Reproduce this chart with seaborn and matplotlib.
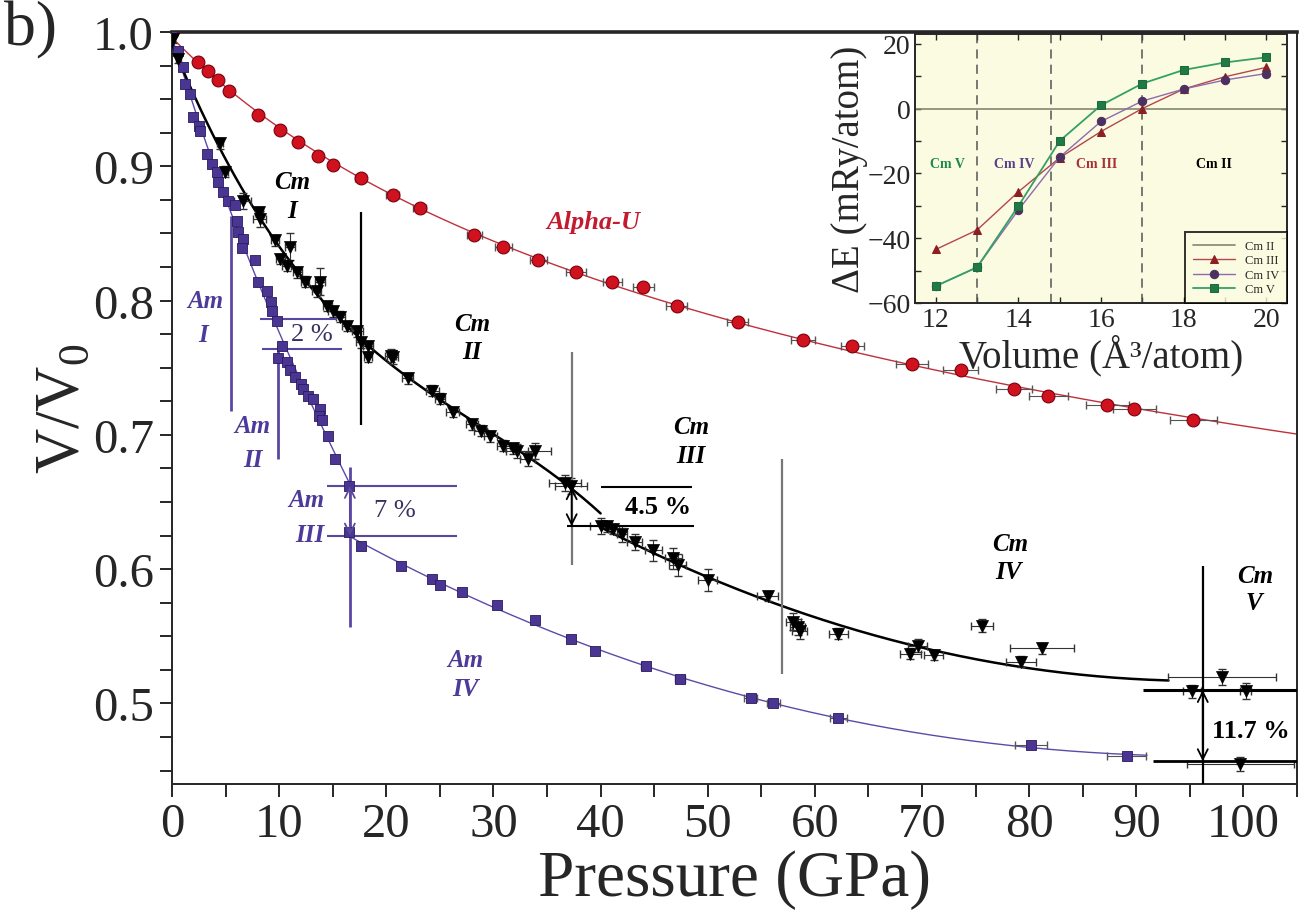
import numpy as np
import matplotlib
matplotlib.use("Agg")
import matplotlib.pyplot as plt
import seaborn as sns
from matplotlib.ticker import MultipleLocator

# ---- Alpha-U (red circles) ----
alpha_p = [0, 2.4, 3.4, 4.3, 5.3, 8.0, 10.1, 11.8, 13.6, 15.0, 17.6, 20.6, 23.1,
           28.2, 30.9, 34.2, 37.7, 41.1, 44.0, 47.1, 52.8, 58.9, 63.5, 69.1,
           73.6, 78.6, 81.8, 87.3, 89.8, 95.3]
alpha_v = [1.0, 0.978, 0.971, 0.964, 0.956, 0.938, 0.927, 0.918, 0.908, 0.901,
           0.891, 0.879, 0.869, 0.849, 0.840, 0.830, 0.821, 0.814, 0.810, 0.796,
           0.784, 0.771, 0.766, 0.753, 0.748, 0.734, 0.729, 0.722, 0.719, 0.711]
alpha_xerr = [0, 0, 0, 0, 0, 0, 0, 0, 0, 0, 0.5, 0.6, 0.6, 0.7, 0.8, 0.8, 0.9,
              0.9, 1.0, 1.0, 1.0, 1.1, 1.1, 1.5, 1.6, 1.7, 1.8, 2.0, 2.0, 2.2]

# ---- Am (purple squares) ----
am_p = [0, 0.6, 1.0, 1.2, 1.7, 2.0, 2.5, 2.6, 3.3, 3.7, 4.2, 4.3, 4.8, 5.2, 5.9,
        6.1, 6.2, 6.6, 6.5, 7.7, 8.0, 8.9, 9.2, 9.3, 9.8, 10.3, 9.9, 10.7, 11.0,
        11.5, 12.0, 12.2, 12.7, 13.2, 13.8, 13.7, 14.0, 14.6, 15.2, 16.5,
        16.5, 17.6, 21.4, 24.3, 25.0, 27.1, 30.3, 33.9, 37.2, 39.5, 44.2, 47.4,
        54.0, 56.1, 62.2, 80.2, 89.1]
am_v = [1.0, 0.986, 0.974, 0.961, 0.954, 0.937, 0.930, 0.926, 0.909, 0.902,
        0.896, 0.888, 0.881, 0.874, 0.871, 0.859, 0.851, 0.846, 0.839, 0.830,
        0.814, 0.807, 0.799, 0.792, 0.785, 0.766, 0.757, 0.754, 0.748, 0.743,
        0.738, 0.734, 0.729, 0.727, 0.719, 0.714, 0.711, 0.699, 0.682, 0.662,
        0.628, 0.617, 0.602, 0.593, 0.588, 0.583, 0.573, 0.562, 0.548, 0.539,
        0.528, 0.518, 0.504, 0.500, 0.489, 0.469, 0.461]
am_xerr = [0] * 47 + [0.3, 0.3, 0.3, 0.4, 0.5, 0.6, 0.6, 0.8, 1.5, 1.8]
am_split = 16.55  # Am III transition

# ---- Cm (black down triangles) ----
cm_p = [0.1, 0.6, 4.5, 4.9, 6.6, 8.1, 8.2, 9.6, 11.0, 10.1, 10.7, 11.7, 12.4,
        13.8, 13.5, 14.5, 15.0, 15.7, 16.3, 17.3, 17.6, 18.3, 18.3, 20.4, 20.6,
        22.0, 24.3, 25.0, 26.2, 28.0, 28.8, 29.7, 30.9, 31.8, 32.2, 33.2, 33.9,
        36.7, 37.2,
        40.0, 40.6, 41.2, 42.0, 43.2, 44.9, 46.8, 47.2, 50.0, 55.6, 58.0, 58.4,
        58.6, 62.2, 68.9, 69.6, 71.1, 75.6, 79.2, 81.2, 95.2, 98.0, 100.2, 99.7]
cm_v = [0.995, 0.980, 0.917, 0.896, 0.874, 0.866, 0.861, 0.845, 0.840, 0.831,
        0.826, 0.821, 0.814, 0.814, 0.807, 0.796, 0.792, 0.788, 0.781, 0.777,
        0.769, 0.766, 0.758, 0.759, 0.758, 0.742, 0.733, 0.727, 0.717, 0.708,
        0.703, 0.699, 0.692, 0.690, 0.688, 0.682, 0.688, 0.664, 0.662,
        0.632, 0.632, 0.630, 0.626, 0.620, 0.614, 0.608, 0.603, 0.592, 0.580,
        0.561, 0.557, 0.554, 0.552, 0.537, 0.543, 0.536, 0.558, 0.531, 0.541,
        0.509, 0.520, 0.509, 0.455]
cm_xerr = [0.2, 0.2, 0.3, 0.3, 0.8, 0.4, 0.6, 0.4, 0.5, 0.4, 0.4, 0.4, 0.4,
           0.5, 0.4, 0.4, 0.4, 0.4, 0.4, 0.5, 0.4, 0.5, 0.4, 0.5, 0.5, 0.5,
           0.6, 0.5, 0.6, 0.6, 0.6, 0.6, 0.6, 0.7, 1.0, 0.7, 1.5, 1.5, 1.5,
           1.0, 0.5, 0.5, 0.5, 0.7, 0.8, 0.8, 0.8, 0.9, 1.0, 0.7, 0.7, 0.7,
           0.9, 1.0, 0.9, 0.9, 1.0, 1.4, 3.0, 0.8, 5.0, 0.5, 5.0]
cm_yerr = [0.003, 0.003, 0.004, 0.004, 0.006, 0.004, 0.006, 0.004, 0.010,
           0.004, 0.004, 0.004, 0.004, 0.010, 0.004, 0.004, 0.004, 0.004,
           0.004, 0.004, 0.004, 0.004, 0.004, 0.005, 0.005, 0.004, 0.004,
           0.004, 0.004, 0.004, 0.004, 0.004, 0.004, 0.004, 0.005, 0.005,
           0.006, 0.006, 0.006,
           0.006, 0.004, 0.004, 0.006, 0.006, 0.008, 0.008, 0.008, 0.008,
           0.004, 0.006, 0.006, 0.006, 0.004, 0.004, 0.005, 0.004, 0.005,
           0.004, 0.004, 0.005, 0.006, 0.006, 0.005]
cm_split = 38.5  # Cm III transition

# phase boundaries (pressure, v_low, v_high)
am_bound_p = [5.5, 9.9, 16.6]
am_bound_lo = [0.718, 0.682, 0.557]
am_bound_hi = [0.863, 0.766, 0.676]
cm_bound_p = [17.6, 37.3, 56.9, 96.2]
cm_bound_lo = [0.707, 0.603, 0.522, 0.44]
cm_bound_hi = [0.866, 0.762, 0.682, 0.602]
cm_bound_col = ["black", "#777777", "#777777", "black"]

# ---- inset: energy differences ----
vol = [12, 13, 14, 15, 16, 17, 18, 19, 20]
de_cm3 = [-43.5, -37.5, -25.7, -15.2, -7.1, 0.0, 6.0, 9.8, 12.7]
de_cm4 = [-54.8, -49.0, -31.3, -15.0, -4.0, 2.3, 6.0, 8.8, 10.8]
de_cm5 = [-54.8, -49.0, -30.1, -10.0, 1.0, 7.7, 11.9, 14.2, 15.8]
vol_bounds = [13, 14.8, 17]

RED = "#d0121f"
PURPLE = "#4a3592"
PURPLE_T = "#4d3a9a"

sns.set_style("ticks")
plt.rcParams["font.family"] = ["Liberation Serif", "DejaVu Serif"]
plt.rcParams["mathtext.fontset"] = "custom"
plt.rcParams["mathtext.rm"] = "Liberation Serif"

fig = plt.figure(figsize=(13.07, 9.2), dpi=100)
ax = fig.add_axes([0.1316, 0.1467, 0.8608, 0.8174])

# fitted curves (polynomial fits of the data)
a_p, a_v = np.array(alpha_p), np.array(alpha_v)
fit_a = np.polyfit(np.log1p(a_p / 25.0), a_v, 2)
grid = np.linspace(0, 105, 300)
sns.lineplot(x=grid, y=np.polyval(fit_a, np.log1p(grid / 25.0)), ax=ax,
             color="#c0303c", lw=1.0, estimator=None, zorder=2)

m_p, m_v = np.array(am_p), np.array(am_v)
lo = (m_p <= am_split) & (m_v > 0.645)
hi = m_v < 0.645
fit_m1 = np.polyfit(m_p[lo], m_v[lo], 3)
fit_m2 = np.polyfit(m_p[hi], m_v[hi], 3)
g1 = np.linspace(0, am_split, 100)
g2 = np.linspace(am_split, 91, 200)
sns.lineplot(x=g1, y=np.polyval(fit_m1, g1), ax=ax, color="#5d4aa8", lw=1.0,
             estimator=None, zorder=2)
sns.lineplot(x=g2, y=np.polyval(fit_m2, g2), ax=ax, color="#5d4aa8", lw=1.0,
             estimator=None, zorder=2)

c_p, c_v = np.array(cm_p), np.array(cm_v)
s1 = c_p < cm_split
s2 = (c_p > cm_split) & (c_v > 0.5)
fit_c1 = np.polyfit(c_p[s1], c_v[s1], 3)
fit_c2 = np.polyfit(c_p[s2], c_v[s2], 2)
h1 = np.linspace(0, 40, 150)
h2 = np.linspace(40, 93, 200)
sns.lineplot(x=h1, y=np.polyval(fit_c1, h1), ax=ax, color="black", lw=1.8,
             estimator=None, zorder=3)
sns.lineplot(x=h2, y=np.polyval(fit_c2, h2), ax=ax, color="black", lw=1.8,
             estimator=None, zorder=3)

# error bars
ax.errorbar(alpha_p, alpha_v, xerr=alpha_xerr, yerr=0.003, fmt="none",
            ecolor="#555555", elinewidth=0.8, capsize=3, zorder=3)
ax.errorbar(am_p, am_v, xerr=am_xerr, fmt="none", ecolor="#555555",
            elinewidth=0.8, capsize=3, zorder=3)
ax.errorbar(cm_p, cm_v, xerr=cm_xerr, yerr=cm_yerr, fmt="none",
            ecolor="#333333", elinewidth=0.8, capsize=3, zorder=3)

# data points
sns.scatterplot(x=alpha_p, y=alpha_v, ax=ax, marker="o", s=85, color=RED,
                edgecolor="#7a0010", linewidth=0.8, zorder=5)
sns.scatterplot(x=am_p, y=am_v, ax=ax, marker="s", s=60, color=PURPLE,
                edgecolor="#2a1b5e", linewidth=0.6, zorder=5)
sns.scatterplot(x=cm_p, y=cm_v, ax=ax, marker="v", s=75, color="black",
                edgecolor="black", linewidth=0.5, zorder=6)

# phase boundary lines
ax.vlines(am_bound_p, am_bound_lo, am_bound_hi, color="#5a48a0", lw=2.0, zorder=4)
for p, v0, v1, c in zip(cm_bound_p, cm_bound_lo, cm_bound_hi, cm_bound_col):
    ax.vlines(p, v0, v1, color=c, lw=1.6, zorder=4)

# volume jumps
ax.hlines([0.786, 0.764], [8.2, 8.4], [15.4, 15.9], color="#5a48a0", lw=1.5, zorder=4)
ax.hlines([0.662, 0.625], 14.5, 26.6, color="#5a48a0", lw=1.5, zorder=4)
ax.hlines(0.661, 40.0, 48.5, color="black", lw=1.5, zorder=4)
ax.hlines(0.632, 36.9, 48.7, color="black", lw=1.5, zorder=4)
ax.hlines(0.510, 90.6, 105, color="black", lw=2.2, zorder=4)
ax.hlines(0.457, 91.6, 105, color="black", lw=2.0, zorder=4)
arrow = dict(arrowstyle="<->", lw=1.3, mutation_scale=18, shrinkA=0, shrinkB=0)
ax.annotate("", xy=(16.6, 0.662), xytext=(16.6, 0.625),
            arrowprops=dict(arrow, color="#5a48a0"), zorder=6)
ax.annotate("", xy=(37.3, 0.661), xytext=(37.3, 0.632),
            arrowprops=dict(arrow, color="black"), zorder=6)
ax.annotate("", xy=(96.2, 0.510), xytext=(96.2, 0.457),
            arrowprops=dict(arrow, color="black"), zorder=6)

# labels
lab = dict(fontsize=18, fontweight="bold", style="italic", ha="center",
           va="center", zorder=7)
ax.text(3.1, 0.800, "Am", color=PURPLE_T, **lab)
ax.text(2.9, 0.775, "I", color=PURPLE_T, **lab)
ax.text(7.5, 0.707, "Am", color=PURPLE_T, **lab)
ax.text(7.6, 0.682, "II", color=PURPLE_T, **lab)
ax.text(12.5, 0.652, "Am", color=PURPLE_T, **lab)
ax.text(12.9, 0.626, "III", color=PURPLE_T, **lab)
ax.text(27.4, 0.533, "Am", color=PURPLE_T, **lab)
ax.text(27.4, 0.511, "IV", color=PURPLE_T, **lab)
ax.text(11.2, 0.889, "Cm", color="black", **lab)
ax.text(11.2, 0.867, "I", color="black", **lab)
ax.text(28.0, 0.783, "Cm", color="black", **lab)
ax.text(28.0, 0.762, "II", color="black", **lab)
ax.text(48.5, 0.706, "Cm", color="black", **lab)
ax.text(48.4, 0.685, "III", color="black", **lab)
ax.text(78.2, 0.619, "Cm", color="black", **lab)
ax.text(78.1, 0.598, "IV", color="black", **lab)
ax.text(101.1, 0.595, "Cm", color="black", **lab)
ax.text(101.0, 0.575, "V", color="black", **lab)
ax.text(39.3, 0.859, "Alpha-U", color="#c41a30", **dict(lab, fontsize=19))

pct = dict(fontsize=19, ha="center", va="center", zorder=7)
ax.text(13.1, 0.775, "2 %", color="#3a3060",
        bbox=dict(facecolor="white", edgecolor="none", pad=0.5), **pct)
ax.text(20.8, 0.644, "7 %", color="#3a3060", **pct)
ax.text(45.4, 0.647, "4.5 %", color="black", fontweight="bold", **pct)
ax.text(100.7, 0.480, "11.7 %", color="black", fontweight="bold", **pct)

# axes styling
ax.set_xlim(0, 105)
ax.set_ylim(0.44, 1.0)
ax.xaxis.set_major_locator(MultipleLocator(10))
ax.xaxis.set_minor_locator(MultipleLocator(5))
ax.yaxis.set_major_locator(MultipleLocator(0.1))
ax.yaxis.set_minor_locator(MultipleLocator(0.025))
ax.tick_params(which="both", direction="out", length=9, width=1.4,
               top=False, right=False)
ax.tick_params(which="major", labelsize=35, pad=4)
for side in ["left", "bottom", "right"]:
    ax.spines[side].set_linewidth(1.4)
ax.spines["top"].set_linewidth(2.6)
ax.set_xlabel("Pressure (GPa)", fontsize=47, labelpad=2)
ax.set_ylabel("V/V$_0$", fontsize=45, labelpad=0)
fig.text(0.003, 0.998, "b)", fontsize=46, va="top", ha="left")

# ---- inset ----
ins = fig.add_axes([0.7001, 0.6696, 0.2846, 0.2924])
ins.set_facecolor("#fbfbe1")
ins.axhline(0, color="#86866e", lw=1.2, label="Cm II", zorder=1)
sns.lineplot(x=vol, y=de_cm3, ax=ins, color="#b3474f", lw=1.0, marker="^",
             markersize=6, markerfacecolor="#8c1f22", markeredgecolor="#8c1f22",
             label="Cm III", estimator=None, zorder=3)
sns.lineplot(x=vol, y=de_cm4, ax=ins, color="#8e6bb0", lw=1.0, marker="o",
             markersize=6, markerfacecolor="#4c3060", markeredgecolor="#4c3060",
             label="Cm IV", estimator=None, zorder=3)
sns.lineplot(x=vol, y=de_cm5, ax=ins, color="#35a066", lw=1.3, marker="s",
             markersize=5.5, markerfacecolor="#1f7a45", markeredgecolor="#1f6b3d",
             label="Cm V", estimator=None, zorder=4)
for vb in vol_bounds:
    ins.axvline(vb, color="#555555", lw=1.1, ls=(0, (6, 4)), zorder=1)
ph = dict(fontsize=10, fontweight="bold", ha="center", va="center")
ins.text(12.28, -17, "Cm V", color="#1f8a4c", **ph)
ins.text(13.91, -17, "Cm IV", color="#5b3f8a", **ph)
ins.text(15.9, -17, "Cm III", color="#a83038", **ph)
ins.text(18.74, -17, "Cm II", color="black", **ph)
ins.set_xlim(11.5, 20.5)
ins.set_ylim(-60, 23)
ins.xaxis.set_major_locator(MultipleLocator(2))
ins.xaxis.set_minor_locator(MultipleLocator(1))
ins.yaxis.set_major_locator(MultipleLocator(20))
ins.yaxis.set_minor_locator(MultipleLocator(10))
ins.tick_params(which="both", direction="in", top=True, right=True,
                length=4, width=1.0)
ins.tick_params(which="major", labelsize=20, pad=3)
for sp in ins.spines.values():
    sp.set_linewidth(1.4)
ins.set_xlabel("Volume (Å³/atom)", fontsize=28, labelpad=1)
ins.set_ylabel("ΔE (mRy/atom)", fontsize=28, labelpad=0)
leg = ins.legend(loc="lower right", fontsize=9, frameon=True, fancybox=False,
                 borderaxespad=0, handlelength=3.4, labelspacing=0.2,
                 borderpad=0.6, facecolor="#fbfbe1")
leg.get_frame().set_edgecolor("black")
leg.get_frame().set_linewidth(1.4)

fig.savefig("out.png", dpi=100)
